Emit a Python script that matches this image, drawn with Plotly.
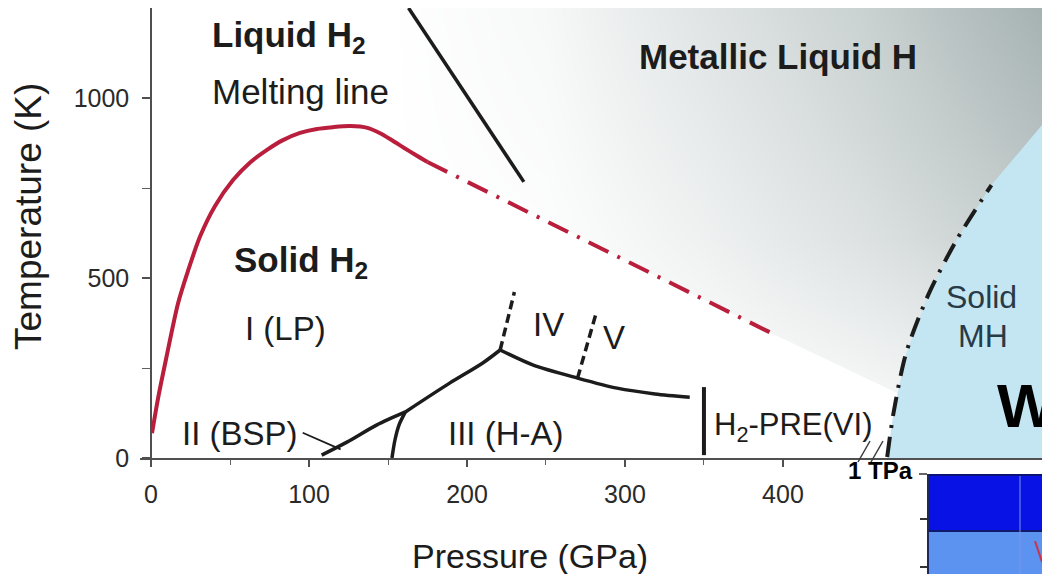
import plotly.graph_objects as go

# ---------------- phase-diagram data (pressure in GPa, temperature in K) ----------------
# measured melting line of H2
melt_p = [0.6, 4.4, 9.5, 17.1, 23.4, 31.0, 40.5, 51.9, 62.7, 73.4, 83.5, 94.3,
          105, 115, 126, 137, 145, 152, 160, 167, 175]
melt_t = [69, 165, 275, 430, 520, 615, 700, 772, 821, 856, 883, 903,
          914, 919, 922, 917, 902, 884, 862, 843, 822]
# extrapolated melting line
melt_ext_p = [175, 395]
melt_ext_t = [822, 342]
# where the extrapolated line meets the metallic-solid boundary
melt_meet_p = [472.6]
melt_meet_t = [180]

# liquid-liquid transition line
llt_p = [163, 236]
llt_t = [1250, 767]

# solid phase boundaries
b_12_p = [108, 124, 143, 161]
b_12_t = [8, 44, 92, 128]
b_23_p = [152.5, 154.4, 157, 161]
b_23_t = [0, 50, 92, 128]
b_13_p = [161, 189, 210, 221]
b_13_t = [128, 208, 264, 300]
b_34_p = [221, 242, 270, 295, 319, 341]
b_34_t = [300, 258, 222, 194, 178, 169]
b_14_p = [221, 230]
b_14_t = [300, 461]
b_45_p = [270, 282]
b_45_t = [222, 406]
b_pre_p = [350, 350]
b_pre_t = [8, 197]
leader_p = [96, 120]
leader_t = [70, 24]

# boundary of solid metallic hydrogen
mh_p = [466, 470, 478, 492, 510, 532]
mh_t = [3, 125, 292, 453, 606, 758]
mh_edge_p = [564]
mh_edge_t = [925]

# grey shading levels of the metallic-liquid field
shade_p = [0, 150, 250, 350, 450, 564]
shade_t = [0, 300, 600, 900, 1250]
shade = [
    [0, 0, 0, 0, 0, 0],
    [0, 0, 0, 0.05, 0.15, 0.30],
    [0, 0, 0.02, 0.15, 0.32, 0.55],
    [0, 0, 0.05, 0.22, 0.42, 0.70],
    [0, 0, 0.08, 0.30, 0.50, 0.85],
]

x_ticks = [0, 100, 200, 300, 400]
x_minor = [50, 150, 250, 350]
y_ticks = [0, 500, 1000]
y_minor = [250, 750]

X_RANGE = [-7, 564]
Y_RANGE = [0, 1250]

FONT = "Liberation Sans, Arial, Helvetica, sans-serif"
INK = "#1c1c1c"
RED = "rgb(185,30,60)"
BLUE = "rgb(196,230,243)"

# plot-area geometry in pixels, used for items outside the axes
L, R, T, B = 140, 1042, 8, 458


def px(x):
    return (x - L) / (R - L)


def py(y):
    return (B - y) / (B - T)


fig = go.Figure()

# shaded metallic-liquid background
fig.add_trace(go.Heatmap(
    x=shade_p, y=shade_t, z=shade, zmin=0, zmax=1, zsmooth="best",
    colorscale=[[0, "rgb(255,255,255)"], [1, "rgb(150,164,164)"]],
    showscale=False, hoverinfo="skip"))

# solid molecular field (white)
white_p = [0] + melt_p + melt_ext_p[1:] + melt_meet_p + mh_p[1::-1] + [mh_p[0], 0]
white_t = [0] + melt_t + melt_ext_t[1:] + melt_meet_t + mh_t[1::-1] + [0, 0]
fig.add_trace(go.Scatter(x=white_p, y=white_t, fill="toself", fillcolor="white",
                         line=dict(width=0), mode="lines", hoverinfo="skip"))

# solid metallic field (light blue)
blue_p = mh_p + mh_edge_p + [564, mh_p[0]]
blue_t = mh_t + mh_edge_t + [0, 0]
fig.add_trace(go.Scatter(x=blue_p, y=blue_t, fill="toself", fillcolor=BLUE,
                         line=dict(width=0), mode="lines", hoverinfo="skip"))


def line(xs, ys, color=INK, width=3.5, dash="solid", shape="linear"):
    fig.add_trace(go.Scatter(x=xs, y=ys, mode="lines", hoverinfo="skip",
                             line=dict(color=color, width=width, dash=dash,
                                       shape=shape, smoothing=0.8)))


line(melt_p, melt_t, RED, 4, shape="spline")
line(melt_ext_p, melt_ext_t, RED, 4, "22px,10px,3px,10px")
line(llt_p, llt_t, INK, 3.5)
line(b_12_p, b_12_t, INK, 3.5, shape="spline")
line(b_23_p, b_23_t, INK, 3.5, shape="spline")
line(b_13_p, b_13_t, INK, 3.5, shape="spline")
line(b_34_p, b_34_t, INK, 3.5, shape="spline")
line(b_14_p, b_14_t, INK, 3.5, "9px,5px")
line(b_45_p, b_45_t, INK, 3.5, "9px,5px")
line(b_pre_p, b_pre_t, INK, 4)
line(leader_p, leader_t, INK, 1.8)
line(mh_p, mh_t, INK, 4, "20px,9px,3px,9px", shape="spline")

annotations = []


def label(x, y, text, size=33, bold=False, color=INK, anchor="left", ref="data", angle=0):
    a = dict(x=x, y=y, text=f"<b>{text}</b>" if bold else text, showarrow=False,
             xanchor=anchor, yanchor="middle", textangle=angle,
             font=dict(family=FONT, size=size, color=color))
    if ref == "paper":
        a.update(xref="paper", yref="paper")
    annotations.append(a)


label(37.3, 1169, "Liquid H<sub>2</sub>", 35, True)
label(37.3, 1017, "Melting line", 35)
label(307.6, 1114, "Metallic Liquid H", 35, True)
label(51.3, 544, "Solid H<sub>2</sub>", 35, True)
label(58.2, 361, "I (LP)", 33)
label(18.4, 69, "II (BSP)", 33)
label(187, 69, "III (H-A)", 33)
label(240.5, 372, "IV", 33)
label(284.8, 336, "V", 33)
label(355, 86, "H<sub>2</sub>-PRE(VI)", 31)
label(526, 447, "Solid", 32, color="rgb(40,58,70)", anchor="center")
label(526.6, 339, "MH", 32, color="rgb(40,58,70)", anchor="center")
label(534, 147, "W", 62, True, color="black")

label(px(530), py(556), "Pressure (GPa)", 34, ref="paper", anchor="center")
label(px(28), py(217), "Temperature (K)", 37, ref="paper", anchor="center", angle=-90)
label(px(880), py(470), "1 TPa", 24, True, color="black", ref="paper", anchor="center")

shapes = []


def pline(x0, y0, x1, y1, color, width):
    shapes.append(dict(type="line", xref="paper", yref="paper",
                       x0=px(x0), y0=py(y0), x1=px(x1), y1=py(y1),
                       line=dict(color=color, width=width), layer="above"))


def prect(x0, y0, x1, y1, color):
    shapes.append(dict(type="rect", xref="paper", yref="paper",
                       x0=px(x0), y0=py(y0), x1=px(x1), y1=py(y1),
                       fillcolor=color, line=dict(width=0), layer="above"))


# axis break marks
pline(858, 462, 870, 441, "#3a3a3a", 1.5)
pline(871, 462, 883, 441, "#3a3a3a", 1.5)

# inset panel at the lower right
prect(927, 474, 1042, 531, "rgb(8,18,228)")
prect(927, 531, 1042, 574, "rgb(92,146,240)")
pline(927, 475, 1042, 475, "rgb(10,20,120)", 2)
pline(927, 531, 1042, 531, "rgb(15,25,110)", 2)
pline(928, 474, 928, 574, "rgb(30,40,90)", 2)
pline(1020, 476, 1020, 574, "rgb(120,150,235)", 1)
pline(919, 474, 927, 474, "#333", 1.5)
pline(920, 519, 927, 519, "#333", 2)
pline(920, 567, 927, 567, "#333", 2)
pline(1035, 541, 1042, 562, "rgb(205,50,70)", 2)

fig.update_layout(
    width=1042, height=574,
    margin=dict(l=L, r=1042 - R, t=T, b=574 - B),
    paper_bgcolor="white", plot_bgcolor="white",
    showlegend=False,
    annotations=annotations,
    shapes=shapes,
    xaxis=dict(range=X_RANGE, showgrid=False, zeroline=False,
               showline=True, linecolor="#505050", linewidth=1.5,
               tickmode="array", tickvals=x_ticks, ticks="outside", ticklen=7,
               tickcolor="#505050", tickwidth=1.5,
               minor=dict(tickvals=x_minor, ticks="outside", ticklen=5,
                          tickcolor="#606060", tickwidth=1.2),
               tickfont=dict(family=FONT, size=25, color="#2a2a2a"),
               ticklabelstandoff=6),
    yaxis=dict(range=Y_RANGE, showgrid=False, zeroline=False,
               anchor="free", position=px(151),
               showline=True, linecolor="#505050", linewidth=1.5,
               tickmode="array", tickvals=y_ticks, ticks="outside", ticklen=8,
               tickcolor="#505050", tickwidth=1.5,
               minor=dict(tickvals=y_minor, ticks="outside", ticklen=8,
                          tickcolor="#606060", tickwidth=1.2),
               tickfont=dict(family=FONT, size=25, color="#2a2a2a"),
               ticklabelstandoff=8),
)

fig.write_html("out.html")
